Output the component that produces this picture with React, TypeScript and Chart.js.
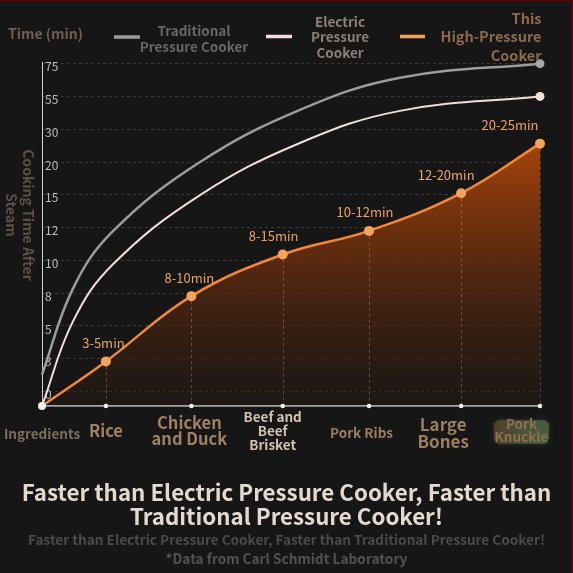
import React, { useEffect, useRef } from "react";
import { Chart, registerables } from "chart.js";

Chart.register(...registerables);

const FONT = '"Noto Sans CJK SC", "Noto Sans", sans-serif';

// ---- data ----
const categories = ["Ingredients", "Rice", "Chicken and Duck", "Beef and Beef Brisket", "Pork Ribs", "Large Bones", "Pork Knuckle"];
const categoryLines = [["Ingredients"], ["Rice"], ["Chicken", "and Duck"], ["Beef and", "Beef", "Brisket"], ["Pork Ribs"], ["Large", "Bones"], ["Pork", "Knuckle"]];
const categoryX = [0, 0.77, 1.8, 2.9, 3.94, 5.05, 6];
const yTickLabels = ["0", "3", "5", "8", "10", "12", "15", "20", "30", "55", "75"];
const thisCookerValues = [-0.44, 0.92, 2.91, 4.18, 4.9, 6.05, 7.56];
const rangeLabels = ["", "3-5min", "8-10min", "8-15min", "10-12min", "12-20min", "20-25min"];
// comparison curves, read at their own sample positions
const curveX = [0, 0.373, 0.855, 1.904, 3.108, 4.313, 6];
const traditionalValues = [0.51, 3.14, 4.89, 7.0, 8.59, 9.57, 10];
const electricValues = [-0.44, 2.14, 3.88, 5.99, 7.58, 8.56, 9.0];
const seriesNames = [["Traditional", "Pressure Cooker"], ["Electric", "Pressure", "Cooker"], ["This", "High-Pressure", "Cooker"]];
const yAxisTitle = ["Cooking Time After", "Steam"];
const unitLabel = "Time (min)";
const titleLines = ["Faster than Electric Pressure Cooker, Faster than", "Traditional Pressure Cooker!"];
const subtitle = "Faster than Electric Pressure Cooker, Faster than Traditional Pressure Cooker!";
const footnote = "*Data from Carl Schmidt Laboratory";

// ---- styles ----
const Y_MIN = -0.44;
const Y_MAX = 10.05;
const xLabelStyles = [
  { size: 13.5, weight: "600", color: "#7e6e60", dx: 0, cy: 434, lh: 0 },
  { size: 16.5, weight: "bold", color: "#a08262", dx: 0, cy: 431, lh: 0 },
  { size: 16.5, weight: "bold", color: "#a08262", dx: -2, cy: 431, lh: 16 },
  { size: 13.5, weight: "bold", color: "#d4c2b0", dx: -10, cy: 430.7, lh: 13.7 },
  { size: 13.5, weight: "bold", color: "#9c7e60", dx: -7.5, cy: 433, lh: 0 },
  { size: 17, weight: "bold", color: "#9c7e60", dx: -18, cy: 433.5, lh: 17 },
  { size: 13.5, weight: "bold", color: "#8e7050", dx: -18.5, cy: 430.7, lh: 13.3 },
];
const rangeLabelDx = [0, -2.5, -2, -9, -4, -15, -30];

function drawLines(c: CanvasRenderingContext2D, lines: string[], x: number, cy: number, lh: number, font: string, color: string, align: CanvasTextAlign) {
  c.font = font;
  c.fillStyle = color;
  c.textAlign = align;
  c.textBaseline = "middle";
  const top = cy - ((lines.length - 1) * lh) / 2;
  lines.forEach((l, i) => c.fillText(l, x, top + i * lh));
}

const decorPlugin = {
  id: "decor",
  beforeDraw(chart: any) {
    const c: CanvasRenderingContext2D = chart.ctx;
    c.save();
    c.fillStyle = "#161616";
    c.fillRect(0, 0, chart.width, chart.height);
    c.fillStyle = "#4e0a0a";
    c.fillRect(0, 0, chart.width, 2);
    c.fillRect(chart.width - 2, 0, 2, chart.height);
    c.restore();
  },
  afterDatasetsDraw(chart: any) {
    const c: CanvasRenderingContext2D = chart.ctx;
    const xs = chart.scales.x;
    const ys = chart.scales.y;
    c.save();
    c.strokeStyle = "rgba(255,205,165,0.28)";
    c.lineWidth = 1;
    c.setLineDash([3, 3]);
    for (let i = 1; i < categoryX.length; i++) {
      const px = Math.round(xs.getPixelForValue(categoryX[i])) + 0.5;
      const py = ys.getPixelForValue(thisCookerValues[i]);
      c.beginPath();
      c.moveTo(px, py + 5);
      c.lineTo(px, ys.bottom);
      c.stroke();
    }
    c.restore();
  },
  afterDraw(chart: any) {
    const c: CanvasRenderingContext2D = chart.ctx;
    const xs = chart.scales.x;
    const ys = chart.scales.y;
    c.save();
    // axis dots
    c.fillStyle = "#f2f2f2";
    categoryX.forEach((v, i) => {
      c.beginPath();
      c.arc(xs.getPixelForValue(v), ys.bottom, i === 0 ? 4 : 2.3, 0, Math.PI * 2);
      c.fill();
    });
    // range labels
    rangeLabels.forEach((t, i) => {
      if (!t) return;
      const px = xs.getPixelForValue(categoryX[i]) + rangeLabelDx[i];
      const py = ys.getPixelForValue(thisCookerValues[i]) - 18.5;
      drawLines(c, [t], px, py, 0, `13px ${FONT}`, "#eba466", "center");
    });
    // x labels
    categoryLines.forEach((lines, i) => {
      const s = xLabelStyles[i];
      const px = xs.getPixelForValue(categoryX[i]) + s.dx;
      if (i === categoryLines.length - 1) {
        c.save();
        const g = c.createLinearGradient(px - 28, 0, px + 28, 0);
        g.addColorStop(0, "rgba(110,80,55,0.55)");
        g.addColorStop(1, "rgba(85,125,80,0.6)");
        c.fillStyle = g;
        c.shadowColor = "rgba(90,110,70,0.6)";
        c.shadowBlur = 4;
        c.beginPath();
        (c as any).roundRect(px - 27.5, 420, 55, 24, 6);
        c.fill();
        c.restore();
      }
      drawLines(c, lines, px, s.cy, s.lh, `${s.weight} ${s.size}px ${FONT}`, s.color, "center");
    });
    // y axis title (rotated clockwise)
    c.save();
    c.translate(28, 215);
    c.rotate(Math.PI / 2);
    c.font = `bold 14px ${FONT}`;
    c.fillStyle = "#5d4f42";
    c.textAlign = "center";
    c.textBaseline = "middle";
    yAxisTitle.forEach((l, i) => c.fillText(l, 0, i * 17));
    c.restore();
    // legend
    drawLines(c, [unitLabel], 8, 34, 0, `bold 14px ${FONT}`, "#6f5f51", "left");
    const swatches = [
      { x0: 114, x1: 140, y: 37, color: "#9c9c9c" },
      { x0: 266, x1: 292, y: 36.5, color: "#f2dcdc" },
      { x0: 400, x1: 425, y: 36.5, color: "#f3a25a" },
    ];
    c.lineWidth = 3.5;
    swatches.forEach((s) => {
      c.strokeStyle = s.color;
      c.beginPath();
      c.moveTo(s.x0, s.y);
      c.lineTo(s.x1, s.y);
      c.stroke();
    });
    drawLines(c, seriesNames[0], 194, 38.7, 15.4, `bold 13.5px ${FONT}`, "#676767", "center");
    drawLines(c, seriesNames[1], 340, 37.2, 15.2, `bold 13.5px ${FONT}`, "#8b807a", "center");
    drawLines(c, seriesNames[2], 541.5, 36.7, 18.6, `bold 14.5px ${FONT}`, "#8b6b4b", "right");
    // bottom titles
    drawLines(c, titleLines, 286.5, 504.7, 24.1, `bold 22.3px ${FONT}`, "#e3d9cf", "center");
    drawLines(c, [subtitle], 286.5, 540, 0, `bold 13.6px ${FONT}`, "#4a4a4a", "center");
    c.strokeStyle = "rgba(255,255,255,0.05)";
    c.lineWidth = 1;
    c.setLineDash([1, 2]);
    c.beginPath();
    c.moveTo(102, 558.5);
    c.lineTo(486, 558.5);
    c.stroke();
    c.setLineDash([]);
    drawLines(c, [footnote], 286.5, 558.5, 0, `bold 13.7px ${FONT}`, "#525252", "center");
    c.restore();
  },
};

export default function App() {
  const ref = useRef<HTMLCanvasElement | null>(null);
  useEffect(() => {
    document.body.style.margin = "0";
    document.body.style.background = "#161616";
    const canvas = ref.current!;
    const lastRadius = (r: number) => (ctx: any) => (ctx.dataIndex === curveX.length - 1 ? r : 0);
    const chart = new Chart(canvas, {
      type: "line",
      data: {
        datasets: [
          {
            label: categories[6],
            data: categoryX.map((x, i) => ({ x, y: thisCookerValues[i] })),
            borderColor: "#f08a3a",
            borderWidth: 2.5,
            tension: 0.4,
            fill: "start",
            backgroundColor: (ctx: any) => {
              const area = ctx.chart.chartArea;
              if (!area) return "rgba(0,0,0,0)";
              const g = ctx.chart.ctx.createLinearGradient(0, area.top + 80, 0, area.bottom);
              g.addColorStop(0, "rgba(178,72,10,0.92)");
              g.addColorStop(0.45, "rgba(115,48,12,0.72)");
              g.addColorStop(1, "rgba(40,26,18,0.35)");
              return g;
            },
            pointRadius: (ctx: any) => (ctx.dataIndex === 0 ? 0 : 5),
            pointBackgroundColor: "#f4a35c",
            pointBorderWidth: 0,
            clip: false as any,
          },
          {
            label: seriesNames[1].join(" "),
            data: curveX.map((x, i) => ({ x, y: electricValues[i] })),
            borderColor: "#f3dcdc",
            borderWidth: 2,
            tension: 0.4,
            fill: false,
            pointRadius: lastRadius(4.5),
            pointBackgroundColor: "#f6dede",
            pointBorderWidth: 0,
            clip: false as any,
          },
          {
            label: seriesNames[0].join(" "),
            data: curveX.map((x, i) => ({ x, y: traditionalValues[i] })),
            borderColor: "#9d9d9d",
            borderWidth: 2.5,
            tension: 0.4,
            fill: false,
            pointRadius: lastRadius(4.5),
            pointBackgroundColor: "#a8a8a8",
            pointBorderWidth: 0,
            clip: false as any,
          },
        ],
      },
      options: {
        animation: false,
        responsive: false,
        devicePixelRatio: 1,
        events: [],
        layout: { padding: { left: 36, right: 33, top: 62, bottom: 167 } },
        plugins: { legend: { display: false }, tooltip: { enabled: false }, title: { display: false } },
        scales: {
          x: {
            type: "linear",
            min: 0,
            max: 6,
            grid: { display: false, drawTicks: false },
            ticks: { display: false },
            border: { display: true, color: "#ececec", width: 1.5 },
          },
          y: {
            type: "linear",
            min: Y_MIN,
            max: Y_MAX,
            afterBuildTicks: (scale: any) => {
              scale.ticks = yTickLabels.map((_, i) => ({ value: i }));
            },
            grid: { color: "rgba(255,255,255,0.15)", drawTicks: false, lineWidth: 1 },
            border: { display: true, color: "#d4d4d4", width: 1, dash: [3, 3] },
            ticks: {
              mirror: true,
              padding: 3,
              labelOffset: 3,
              color: "#bdbdbd",
              font: { family: FONT, size: 12 },
              callback: (v: any) => yTickLabels[v] ?? "",
            },
          },
        },
      },
      plugins: [decorPlugin],
    } as any);
    return () => chart.destroy();
  }, []);
  return (
    <div style={{ width: 573, height: 573 }}>
      <canvas ref={ref} width={573} height={573} style={{ display: "block", width: 573, height: 573 }} />
    </div>
  );
}
